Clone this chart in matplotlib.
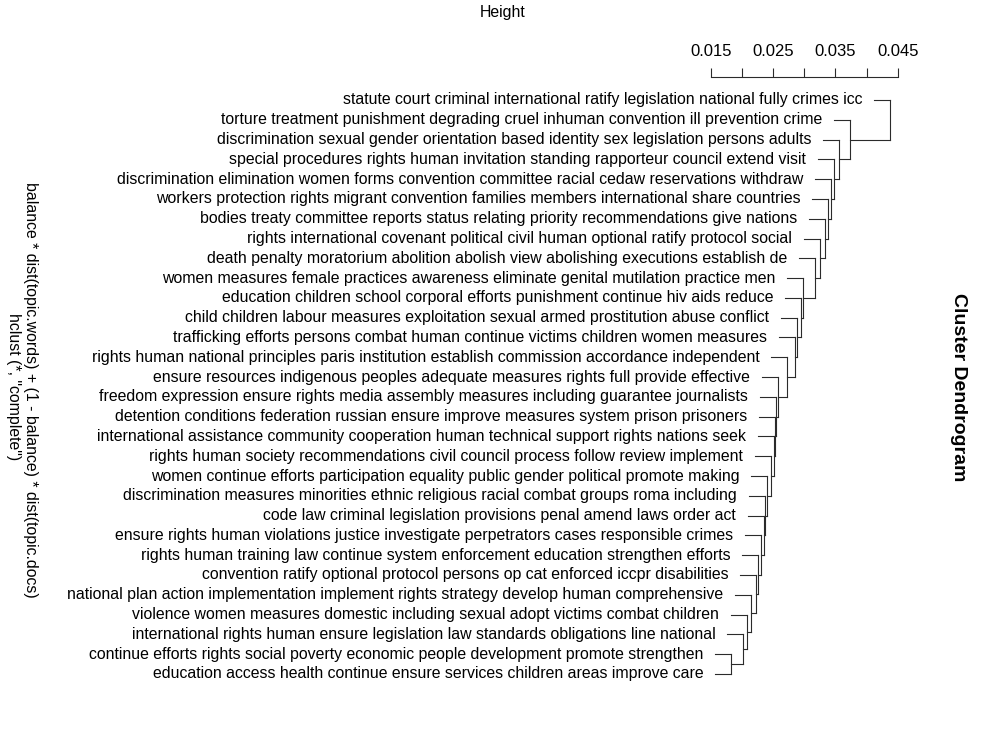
import matplotlib
matplotlib.use("Agg")
import matplotlib.pyplot as plt
from matplotlib.ticker import FixedLocator

plt.rcParams['font.family'] = ['Liberation Sans', 'DejaVu Sans']

# leaf labels, top to bottom
labels = [
    "statute court criminal international ratify legislation national fully crimes icc",
    "torture treatment punishment degrading cruel inhuman convention ill prevention crime",
    "discrimination sexual gender orientation based identity sex legislation persons adults",
    "special procedures rights human invitation standing rapporteur council extend visit",
    "discrimination elimination women forms convention committee racial cedaw reservations withdraw",
    "workers protection rights migrant convention families members international share countries",
    "bodies treaty committee reports status relating priority recommendations give nations",
    "rights international covenant political civil human optional ratify protocol social",
    "death penalty moratorium abolition abolish view abolishing executions establish de",
    "women measures female practices awareness eliminate genital mutilation practice men",
    "education children school corporal efforts punishment continue hiv aids reduce",
    "child children labour measures exploitation sexual armed prostitution abuse conflict",
    "trafficking efforts persons combat human continue victims children women measures",
    "rights human national principles paris institution establish commission accordance independent",
    "ensure resources indigenous peoples adequate measures rights full provide effective",
    "freedom expression ensure rights media assembly measures including guarantee journalists",
    "detention conditions federation russian ensure improve measures system prison prisoners",
    "international assistance community cooperation human technical support rights nations seek",
    "rights human society recommendations civil council process follow review implement",
    "women continue efforts participation equality public gender political promote making",
    "discrimination measures minorities ethnic religious racial combat groups roma including",
    "code law criminal legislation provisions penal amend laws order act",
    "ensure rights human violations justice investigate perpetrators cases responsible crimes",
    "rights human training law continue system enforcement education strengthen efforts",
    "convention ratify optional protocol persons op cat enforced iccpr disabilities",
    "national plan action implementation implement rights strategy develop human comprehensive",
    "violence women measures domestic including sexual adopt victims combat children",
    "international rights human ensure legislation law standards obligations line national",
    "continue efforts rights social poverty economic people development promote strengthen",
    "education access health continue ensure services children areas improve care",
]

# merge heights: row k joins the cluster of all rows below it; last value = bottom pair
merge_heights = [
    0.04373, 0.03732, 0.03556, 0.03476, 0.03428, 0.03380, 0.03332, 0.03252,
    0.03172, 0.02979, 0.02947, 0.02883, 0.02851, 0.02723, 0.02579, 0.02547,
    0.02531, 0.02515, 0.02466, 0.02402, 0.02370, 0.02354, 0.02306, 0.02258,
    0.02226, 0.02146, 0.02082, 0.02018, 0.01826,
]

tick_major = [0.015, 0.025, 0.035, 0.045]
tick_minor = [0.020, 0.030, 0.040]

n = len(labels)
hang = 0.1 * (max(merge_heights) - min(merge_heights))
gap = 0.0019
col = "#2b2b2b"
lw = 0.8
fs = 11.4

fig = plt.figure(figsize=(10, 7.4), dpi=100)
ax = fig.add_axes([0.600, 1 - 693.7 / 740, 0.310, (693.7 - 80.2) / 740])
ax.set_xlim(-0.00274, 0.04694)
ax.set_ylim(n + 1, 0)

# chain of merges from the bottom up
cur_h = merge_heights[-1]
cur_y = (n - 1 + n) / 2.0
for yy in (n - 1, n):
    ax.plot([cur_h - hang, cur_h], [yy, yy], color=col, lw=lw)
ax.plot([cur_h, cur_h], [n - 1, n], color=col, lw=lw)
leaf_h = {n - 1: cur_h, n: cur_h}
for k in range(n - 2, 0, -1):
    h = merge_heights[k - 1]
    # leaf k
    ax.plot([h - hang, h], [k, k], color=col, lw=lw)
    # existing cluster goes up to new height
    ax.plot([cur_h, h], [cur_y, cur_y], color=col, lw=lw)
    ax.plot([h, h], [k, cur_y], color=col, lw=lw)
    leaf_h[k] = h
    cur_h = h
    cur_y = (k + cur_y) / 2.0

for i, lab in enumerate(labels, start=1):
    ax.text(leaf_h[i] - hang - gap, i, lab, ha="right", va="center", fontsize=fs)

for s in ["left", "right", "bottom"]:
    ax.spines[s].set_visible(False)
ax.spines["top"].set_bounds(0.015, 0.045)
ax.spines["top"].set_position(("outward", 2))
ax.spines["top"].set_color(col)
ax.spines["top"].set_linewidth(lw)
ax.xaxis.set_ticks_position("top")
ax.xaxis.set_major_locator(FixedLocator(tick_major))
ax.xaxis.set_minor_locator(FixedLocator(tick_minor))
ax.set_xticklabels(["%.3f" % t for t in tick_major], fontsize=12)
ax.tick_params(axis="x", which="both", direction="out", length=6.5, width=lw,
               color=col, pad=6.5)
ax.set_yticks([])

fig.text(0.503, 1 - 12 / 740, "Height", ha="center", va="center", fontsize=fs)
fig.text(0.958, 1 - 387 / 740, "Cluster Dendrogram", ha="center", va="center",
         rotation=270, fontsize=14, fontweight="bold")
fig.text(0.030, 1 - 390 / 740,
         "balance * dist(topic.words) + (1 - balance) * dist(topic.docs)",
         ha="center", va="center", rotation=270, fontsize=fs)
fig.text(0.013, 1 - 387 / 740, 'hclust (*, "complete")', ha="center", va="center",
         rotation=270, fontsize=fs)

fig.savefig("out.png", dpi=100)
